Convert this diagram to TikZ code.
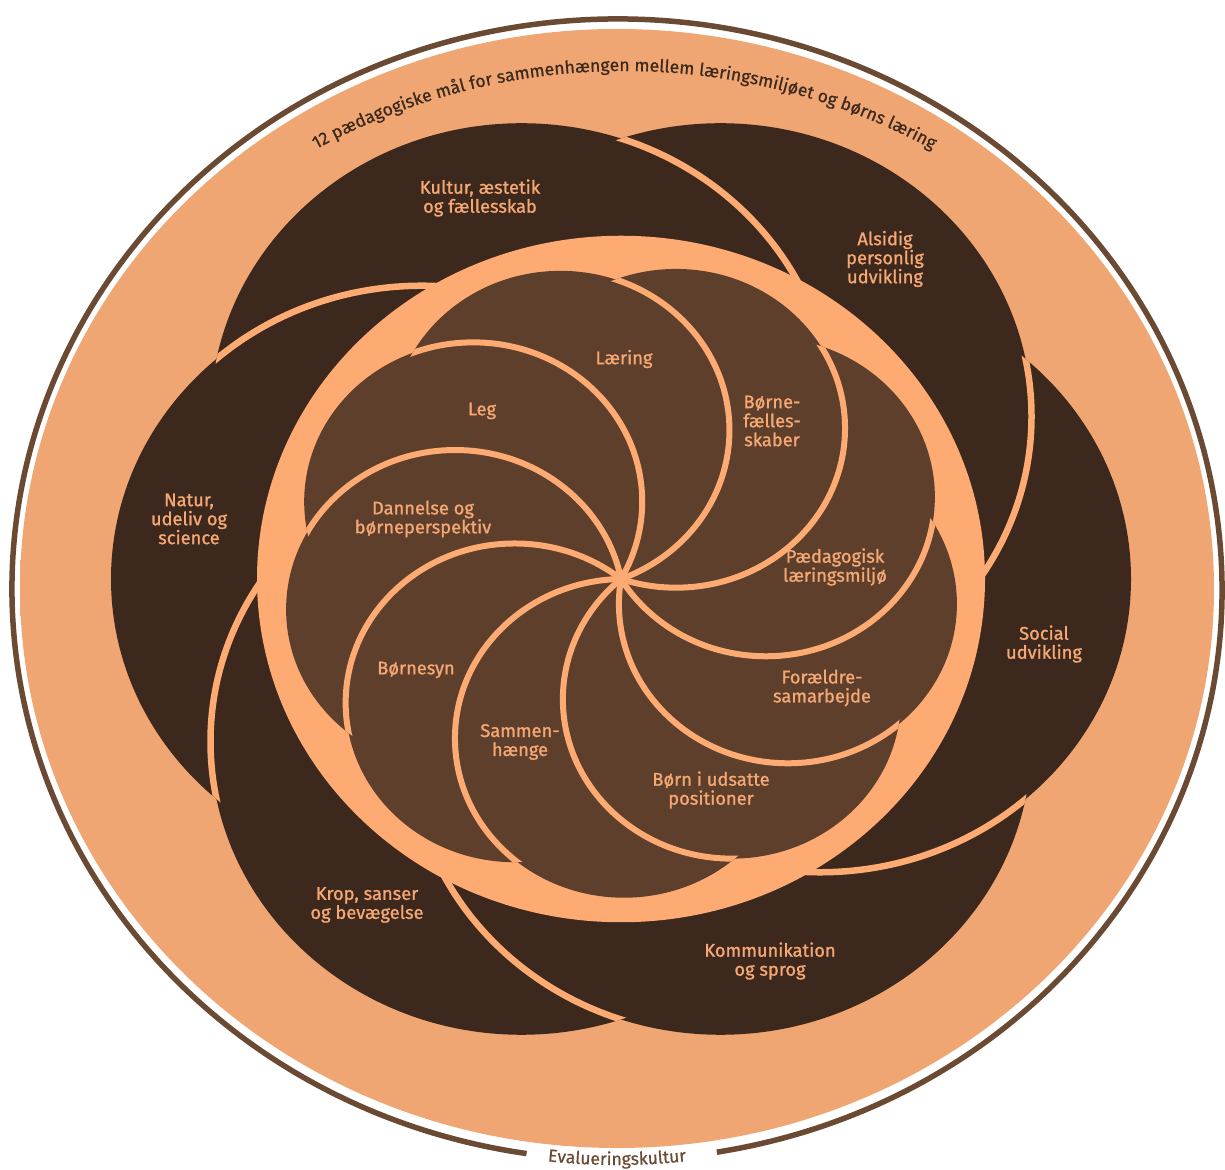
\documentclass[tikz,border=0pt]{standalone}
\usepackage{fontspec}
\setmainfont{Fira Sans}
\newfontfamily\lblfam{Fira Sans}[FakeBold=1]
\newfontfamily\ringfam{Fira Sans}[FakeBold=0.6]
\usetikzlibrary{decorations.text}
\definecolor{ringdark}{HTML}{E29866}
\definecolor{ringlight}{HTML}{EFA672}
\definecolor{discc}{HTML}{FDAB73}
\definecolor{lobec}{HTML}{3C281C}
\definecolor{petalc}{HTML}{5E3F2C}
\definecolor{framec}{HTML}{6B4A34}
\definecolor{labelc}{HTML}{F6A874}
\definecolor{ringtextc}{HTML}{3C281C}
\pgfdeclareradialshading{ringshade}{\pgfpoint{0bp}{0bp}}{color(0bp)=(ringlight); color(38bp)=(ringlight); color(50bp)=(ringdark)}
\newcommand\lblfont{\lblfam\fontsize{18.3}{19}\selectfont}
\newcommand\ringfont{\ringfam\fontsize{17.6}{20}\selectfont}
\newcommand\evfont{\ringfam\fontsize{17.5}{20}\selectfont}
\tikzset{
  lbl/.style={text=labelc, font=\lblfont, align=center, inner sep=0pt},
  lobesep/.style={draw=discc, line width=6.5},
  petalsep/.style={draw=discc, line width=6}
}
\begin{document}
\begin{tikzpicture}[x=1pt,y=1pt]
\useasboundingbox (0,0) rectangle (1225,1169);
% outer frame line with gap
\draw[framec, line width=5.5] (617,579.5) ++(279.5:605 and 570.5)
  arc[start angle=279.5, end angle=621.4, x radius=605, y radius=570.5];
% ring
\shade[shading=ringshade] (617,580.5) ellipse[x radius=597, y radius=559.5];
% lobes and inner disc
\begin{scope}[shift={(621,590)}, yscale=0.943]
  \foreach \a in {0,60,...,300}
    \fill[lobec] (\a:199) circle[radius=311];
  \foreach \a in {0,60,...,300}{
    \begin{scope}
      \clip (\a:199) circle[radius=311];
      \path[lobesep] (\a+60:199) circle[radius=311];
    \end{scope}
  }
  \fill[discc] (0,0) circle[radius=364];
  \foreach \a in {111,71,...,-209}
    \fill[petalc] (\a:169) circle[radius=169];
  \foreach \a in {111,71,...,-209}{
    \begin{scope}
      \clip (\a:169) circle[radius=169];
      \path[petalsep] (\a+40:169) circle[radius=169];
    \end{scope}
  }
\end{scope}
% ring texts
\path[decorate, decoration={text along path, text align=center, text color=ringtextc,
  text={|\ringfont|12 pædagogiske mål for sammenhængen mellem læringsmiljøet og børns læring}}]
  (624,453) ++(121:645) arc[start angle=121, end angle=59, radius=645];
\path[decorate, decoration={text along path, text align=center, text color=framec,
  text={|\evfont|Evalueringskultur}}]
  (617,579.5) ++(260:610 and 575.5) arc[start angle=260, end angle=280, x radius=610, y radius=575.5];
% outer labels
\node[lbl] (kultur) at (480,971) {Kultur, æstetik\\og fællesskab};
\node[lbl] (alsidig) at (885,910) {Alsidig\\personlig\\udvikling};
\node[lbl] (natur) at (189,650) {Natur,\\udeliv og\\science};
\node[lbl] (social) at (1044,525) {Social\\udvikling};
\node[lbl] (kommunikation) at (770,208) {Kommunikation\\og sprog};
\node[lbl] (krop) at (367,264) {Krop, sanser\\og bevægelse};
% inner labels
\node[lbl] (laering) at (624,810) {Læring};
\node[lbl] (leg) at (482,758) {Leg};
\node[lbl] (boernefaelles) at (772,748) {Børne-\\fælles-\\skaber};
\node[lbl] (paedagogisk) at (835,602) {Pædagogisk\\læringsmiljø};
\node[lbl] (foraeldre) at (822,481) {Forældre-\\samarbejde};
\node[lbl] (boern) at (711,379) {Børn i udsatte\\positioner};
\node[lbl] (sammen) at (520,427) {Sammen-\\hænge};
\node[lbl] (boernesyn) at (416,499) {Børnesyn};
\node[lbl] (dannelse) at (423,650) {Dannelse og\\børneperspektiv};
\end{tikzpicture}
\end{document}
